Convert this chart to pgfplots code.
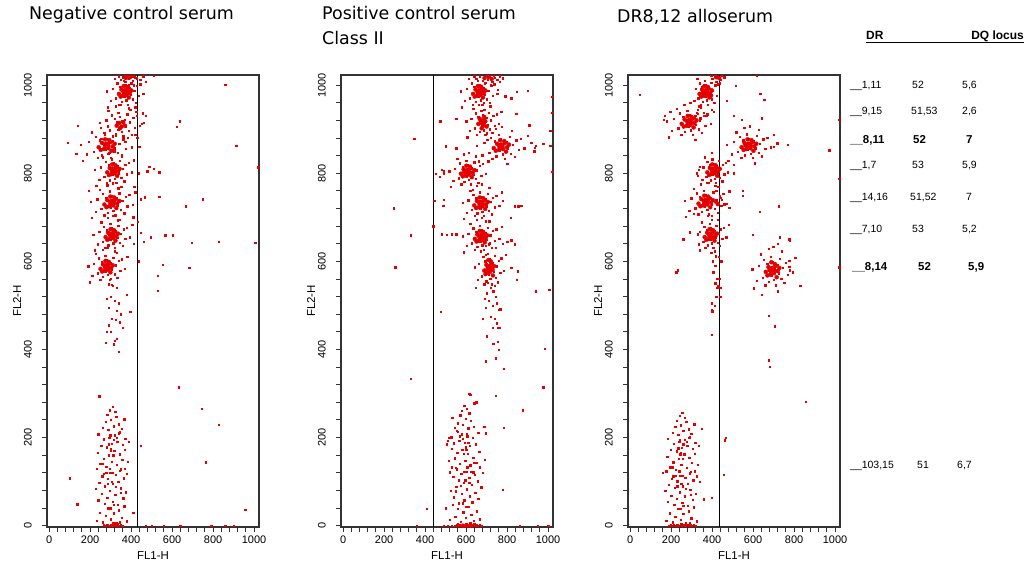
\documentclass[border=0pt]{standalone}
\usepackage{fontspec}
\setmainfont{Liberation Sans}
\newfontfamily\dv{DejaVu Sans}
\usepackage{pgfplots}
\pgfplotsset{compat=1.18}
\definecolor{dot}{RGB}{228,0,0}
\pgfplotsset{
  fc/.style={
    width=212bp, height=452bp, scale only axis,
    xmin=-10, xmax=1024, ymin=-3, ymax=1023,
    xtick={0,200,...,1000}, ytick={0,200,...,1000},
    minor tick num=4,
    xtick pos=bottom, ytick pos=left,
    tick align=outside,
    major tick length=5bp, minor tick length=5bp,
    axis line style={black!80, line width=1.1bp},
    tick style={black!80, line width=0.9bp},
    /pgf/number format/assume math mode=true,
    /pgf/number format/set thousands separator={},
    tick label style={font=\fontsize{11}{12}\selectfont},
    yticklabel style={rotate=90, anchor=south, inner sep=0pt},
    xticklabel style={anchor=north, inner sep=0pt},
    yticklabel shift=10bp, xticklabel shift=4bp,
    xlabel={FL1-H}, ylabel={FL2-H},
    label style={font=\fontsize{11.5}{13}\selectfont},
    xlabel style={at={(axis description cs:0.5,-0.064)}, anchor=center},
    ylabel style={at={(axis description cs:-0.1415,0.5)}, anchor=center},
  },
  dots/.style={only marks, mark=square*, mark size=0.68bp, color=dot, mark options={draw=none, fill=dot}},
  core/.style={only marks, mark=*, mark size=2bp, color=dot, mark options={draw=none, fill=dot}},
  blob/.style={only marks, mark=*, mark size=3.6bp, color=dot, mark options={draw=none, fill=dot}},
  gate/.style={black, line width=1bp, no marks},
}
\begin{document}
\begin{tikzpicture}
\path[use as bounding box] (0,0) rectangle (1028bp,565bp);

% ---------------- negative control
\begin{axis}[fc, at={(47bp,38bp)}, anchor=south west]
\addplot[dots] coordinates {
(350,1012) (362,1018) (372,1008) (380,1020) (390,1014) (398,1021) (408,1010) (418,1018) (370,1022) (400,1004) (428,1016) (340,1020) (460,1020) (388,1000) (412,1000)
(309,992) (326,970) (333,1004) (339,956) (347,996) (353,962) (359,988) (363,1010) (367,974) (371,1000) (377,966) (381,990) (385,956) (391,994) (397,978) (403,1006) (409,968) (415,988) (423,960) (429,998) (437,976) (445,1002) (301,964) (319,1014) (281,986) (459,980) (395,944) (471,1008) (287,950) (375,1020) (411,1020)
(278,920) (296,898) (304,932) (311,884) (320,924) (326,890) (333,916) (337,938) (342,902) (346,928) (353,894) (357,918) (361,884) (368,922) (375,906) (381,934) (388,896) (394,916) (403,888) (410,926) (419,904) (427,930) (269,892) (289,942) (247,914) (443,908) (324,952) (372,872) (456,936) (254,878) (350,956) (390,948)
(194,871) (218,849) (228,883) (236,835) (247,875) (256,841) (264,867) (270,889) (275,853) (281,879) (289,845) (295,869) (301,835) (309,873) (317,857) (326,885) (334,847) (343,867) (354,839) (362,877) (373,855) (385,881) (183,843) (208,893) (155,865) (404,859) (253,903) (315,823) (421,887) (163,829) (287,907) (337,899)
(252,814) (269,792) (276,826) (282,778) (290,818) (296,784) (302,810) (306,832) (310,796) (314,822) (320,788) (324,812) (328,778) (334,816) (340,800) (346,828) (352,790) (358,810) (366,782) (372,820) (380,798) (388,824) (244,786) (262,836) (224,808) (402,802) (294,846) (338,766) (414,830) (230,772) (318,850) (354,842)
(235,741) (254,719) (262,753) (269,705) (278,745) (285,711) (292,737) (297,759) (301,723) (306,749) (313,715) (318,739) (322,705) (329,743) (336,727) (343,755) (350,717) (357,737) (366,709) (373,747) (382,725) (391,751) (226,713) (246,763) (203,735) (407,729) (283,773) (334,693) (421,757) (209,699) (311,777) (352,769)
(244,667) (261,645) (268,679) (274,631) (282,671) (288,637) (294,663) (298,685) (302,649) (306,675) (312,641) (316,665) (320,631) (326,669) (332,653) (338,681) (344,643) (350,663) (358,635) (364,673) (372,651) (380,677) (236,639) (254,689) (216,661) (394,655) (286,699) (330,619) (406,683) (222,625) (310,703) (346,695)
(219,595) (236,573) (243,607) (249,559) (257,599) (263,565) (269,591) (273,613) (277,577) (281,603) (287,569) (291,593) (295,559) (301,597) (307,581) (313,609) (319,571) (325,591) (333,563) (339,601) (347,579) (355,605) (211,567) (229,617) (191,589) (369,583) (261,627) (305,547) (381,611) (197,553) (285,631) (321,623)
(290,548) (310,545) (330,540) (300,520) (280,515) (320,510) (340,505) (290,495) (330,488) (350,480) (395,485) (305,470) (325,468) (290,455) (345,462) (280,440) (300,440) (320,420) (330,425) (275,415) (315,412) (340,395) (360,450) (380,525) (300,560)
(232,12) (248,30) (262,8) (275,22) (288,40) (301,15) (314,28) (327,6) (340,35) (353,18) (366,44) (379,10)
(240,58) (256,72) (270,50) (283,64) (296,80) (309,55) (322,70) (335,48) (348,85) (361,62) (374,76) (226,84)
(244,98) (259,112) (272,90) (285,106) (298,120) (311,95) (324,115) (337,100) (350,128) (363,108) (380,118) (232,130)
(250,140) (266,152) (279,134) (292,160) (305,145) (318,170) (331,138) (344,162) (357,150) (370,172) (236,165) (385,145)
(254,182) (268,196) (281,178) (294,200) (307,186) (320,205) (333,190) (346,212) (359,184) (372,198) (240,208) (390,190)
(262,222) (276,236) (289,218) (302,240) (315,226) (328,248) (341,230) (354,220) (367,242) (296,262) (310,270) (284,252) (322,258)
(300,170) (302,175) (295,130) (310,120) (305,100) (290,185) (315,195) (330,200) (285,95) (320,170) (340,210) (298,205) (312,160) (278,120) (326,88) (345,125) (265,118) (350,75) (300,40) (315,48) (260,140) (370,130)
(268,1) (276,0) (284,2) (292,0) (300,1) (308,0) (316,2) (324,0) (332,1) (340,0) (348,2) (356,0) (320,4) (336,5) (344,8) (312,6)
(102,108) (138,49) (244,294) (447,181) (411,30) (631,314) (743,265) (828,229) (764,144) (956,36) (470,0) (500,0) (560,0) (640,0) (790,0) (860,0) (900,0)
(859,1001) (636,918) (623,905) (509,1022) (912,862) (1020,814) (488,815) (509,810) (538,802) (479,805) (750,741) (667,725) (538,747) (465,746) (447,741) (447,665) (496,655) (566,659) (604,659) (696,642) (826,645) (1005,643) (461,645) (553,593) (683,586) (530,567) (530,534) (141,908) (91,869) (132,845) (192,761) (440,860) (438,800) (436,600) (444,1012) (425,940) (420,950) (430,880) (416,770) (410,700) (432,690) (412,640) (452,912) (462,915) (470,930)
};
\addplot[core] coordinates {
(375,1016) (395,1018)
(341,980) (353,990) (361,976) (369,988) (377,978) (385,992) (393,982) (401,988) (349,974) (381,996) (365,998) (389,972)
(330,908) (342,914) (354,906) (362,916) (346,902) (370,908)
(242,859) (258,869) (268,855) (278,867) (289,857) (299,871) (310,861) (320,867) (252,853) (294,875) (273,877) (304,851)
(284,802) (296,812) (304,798) (312,810) (320,800) (328,814) (336,804) (344,810) (292,796) (324,818) (308,820) (332,794)
(270,729) (284,739) (294,725) (304,737) (313,727) (323,741) (332,731) (342,737) (280,723) (318,745) (299,747) (328,721)
(276,655) (288,665) (296,651) (304,663) (312,653) (320,667) (328,657) (336,663) (284,649) (316,671) (300,673) (324,647)
(251,583) (263,593) (271,579) (279,591) (287,581) (295,595) (303,585) (311,591) (259,577) (291,599) (275,601) (299,575)
};
\addplot[blob] coordinates {
(371,984) (281,863) (314,806) (306,733) (306,659) (281,587)
};
\addplot[gate] coordinates {(433,-3) (433,1023)};
\node[anchor=south, inner sep=1bp, font=\fontsize{12.5}{14}\selectfont] at (axis cs:433,1023) {8/6.047};
\end{axis}

% ---------------- positive control
\begin{axis}[fc, at={(341bp,38bp)}, anchor=south west]
\addplot[dots] coordinates {
(650,1014) (668,1020) (680,1010) (692,1018) (704,1012) (716,1021) (728,1008) (740,1017) (752,1012) (764,1020) (690,1004) (720,1000) (640,1020) (780,1016) (700,1022) (735,1022)
(602,992) (619,970) (626,1004) (632,956) (640,996) (646,962) (652,988) (656,1010) (660,974) (664,1000) (670,966) (674,990) (678,956) (684,994) (690,978) (696,1006) (702,968) (708,988) (716,960) (722,998) (730,976) (738,1002) (594,964) (612,1014) (574,986) (752,980) (668,1020) (688,944) (764,1008) (580,950) (668,1022) (704,1020) (755,990) (790,975) (820,970) (848,985) (900,988)
(625,924) (641,902) (647,936) (652,888) (659,928) (665,894) (670,920) (674,942) (677,906) (681,932) (686,898) (690,922) (694,888) (699,926) (704,910) (710,938) (715,900) (721,920) (728,892) (733,930) (740,908) (748,934) (618,896) (634,946) (600,918) (760,912) (663,956) (703,876) (771,940) (605,882) (685,960) (717,952)
(689,869) (712,847) (721,881) (728,833) (739,873) (747,839) (754,865) (760,887) (765,851) (770,877) (778,843) (783,867) (788,833) (796,871) (804,855) (812,883) (819,845) (827,865) (838,837) (845,875) (856,853) (866,879) (679,841) (702,891) (653,863) (884,857) (744,901) (801,821) (900,885) (661,827) (775,905) (822,897) (918,870) (940,862) (935,858)
(546,811) (563,789) (570,823) (576,775) (584,815) (590,781) (596,807) (600,829) (604,793) (608,819) (614,785) (618,809) (622,775) (628,813) (634,797) (640,825) (646,787) (652,807) (660,779) (666,817) (674,795) (682,821) (538,783) (556,833) (518,805) (696,799) (588,843) (632,763) (708,827) (524,769) (612,847) (648,839) (480,808) (492,800) (453,799) (470,792)
(611,739) (628,717) (635,751) (641,703) (649,743) (655,709) (661,735) (665,757) (669,721) (673,747) (679,713) (683,737) (687,703) (693,741) (699,725) (705,753) (711,715) (717,735) (725,707) (731,745) (739,723) (747,749) (603,711) (621,761) (583,733) (761,727) (653,771) (697,691) (773,757) (589,697) (677,775) (713,767) (780,738) (838,725) (852,727) (868,727) (489,727) (445,737) (492,740)
(611,663) (628,641) (635,675) (641,627) (649,667) (655,633) (661,659) (665,681) (669,645) (673,671) (679,637) (683,661) (687,627) (693,665) (699,649) (705,677) (711,639) (717,659) (725,631) (731,669) (739,647) (747,673) (603,635) (621,685) (583,657) (761,651) (653,695) (697,615) (773,679) (589,621) (677,699) (713,691) (778,640) (800,645) (820,648) (838,639) (480,662) (506,660) (530,662) (551,662)
(663,594) (677,566) (683,610) (687,548) (694,600) (699,555) (703,589) (707,618) (710,571) (713,605) (718,561) (721,592) (724,548) (729,597) (734,576) (739,613) (743,563) (748,589) (755,553) (759,602) (766,574) (772,607) (657,558) (671,623) (641,587) (783,579) (697,636) (732,532) (793,615) (646,540) (716,641) (745,631) (820,585) (848,559) (852,578)
(690,548) (705,552) (720,540) (700,528) (740,545) (745,520) (710,510) (730,500) (695,495) (760,490) (720,475) (680,470) (740,470) (750,460) (730,449) (765,450) (700,430) (735,413) (755,418) (760,400) (745,380) (697,373) (782,357) (750,505) (690,515)
(668,15) (652,33) (638,11) (625,25) (612,43) (599,18) (586,31) (573,9) (560,38) (547,21) (534,47) (521,13)
(660,61) (644,75) (630,53) (617,67) (604,83) (591,58) (578,73) (565,51) (552,88) (539,65) (526,79) (674,87)
(656,101) (641,115) (628,93) (615,109) (602,123) (589,98) (576,118) (563,103) (550,131) (537,111) (520,121) (668,133)
(650,143) (634,155) (621,137) (608,163) (595,148) (582,173) (569,141) (556,165) (543,153) (530,175) (664,168) (515,148)
(646,185) (632,199) (619,181) (606,203) (593,189) (580,208) (567,193) (554,215) (541,187) (528,201) (660,211) (510,193)
(638,225) (624,239) (611,221) (598,243) (585,229) (572,251) (559,233) (546,223) (533,245) (604,265) (590,273) (616,255) (578,261)
(600,173) (598,178) (605,133) (590,123) (595,103) (610,188) (585,198) (570,203) (615,98) (580,173) (560,213) (602,208) (588,163) (622,123) (574,91) (555,128) (635,121) (550,78) (600,43) (585,51) (640,143) (530,133)
(500,40) (505,185) (515,200) (690,150) (680,120) (650,280) (640,278) (615,300) (695,210) (688,225)
(545,0) (553,1) (561,0) (569,2) (577,0) (585,1) (593,0) (601,2) (609,0) (617,1) (625,0) (633,2) (641,0) (649,1) (657,0) (665,2) (560,4) (600,5) (620,6) (640,4)
(347,878) (246,721) (331,659) (254,587) (331,334) (409,38) (358,0) (490,0) (510,0) (530,0) (673,0) (860,0) (950,0) (1000,0) (477,485) (766,491) (757,449) (730,413) (697,373) (782,357) (977,314) (982,402) (876,262) (782,222) (779,81) (746,295) (621,298)
(1020,974) (1020,938) (1011,897) (901,988) (908,909) (844,935) (976,867) (1011,863) (933,850) (1020,803) (855,725) (819,699) (838,639) (941,532) (1006,536) (474,918) (551,924) (502,861) (551,857) (453,799) (492,806) (440,680)
};
\addplot[core] coordinates {
(690,1016) (710,1018) (725,1014)
(634,980) (646,990) (654,976) (662,988) (670,978) (678,992) (686,982) (694,988) (642,974) (674,996) (658,998) (682,972)
(660,912) (672,920) (684,908) (694,918) (676,902) (700,906) (666,924) (688,928)
(735,857) (751,867) (761,853) (771,865) (780,855) (790,869) (800,859) (809,865) (745,851) (786,873) (766,875) (795,849)
(575,799) (588,809) (597,795) (606,807) (615,797) (623,811) (632,801) (641,807) (584,793) (619,815) (601,817) (628,791) (610,803) (592,803)
(640,727) (653,737) (662,723) (671,735) (680,725) (688,739) (697,729) (706,735) (649,721) (684,743) (666,745) (693,719)
(643,651) (655,661) (663,647) (671,659) (679,649) (687,663) (695,653) (703,659) (651,645) (683,667) (667,669) (691,643)
(689,579) (699,592) (705,574) (711,589) (717,576) (723,594) (729,581) (737,589) (695,571) (721,600) (709,603) (731,568)
(585,0) (605,0) (625,0)
};
\addplot[blob] coordinates {
(664,984) (681,916) (770,861) (608,803) (673,731) (673,655) (713,584)
};
\addplot[gate] coordinates {(440,-3) (440,1023)};
\node[anchor=south, inner sep=1bp, font=\fontsize{12.5}{14}\selectfont] at (axis cs:440,1023) {8/6.039};
\end{axis}

% ---------------- DR8,12 alloserum
\begin{axis}[fc, at={(628bp,38bp)}, anchor=south west]
\addplot[dots] coordinates {
(400,1014) (412,1020) (420,1008) (430,1018) (440,1012) (448,1021) (415,1000) (438,1004) (395,1022) (460,1018)
(319,992) (333,970) (339,1004) (343,956) (350,996) (355,962) (359,988) (363,1010) (366,974) (369,1000) (374,966) (377,990) (380,956) (385,994) (390,978) (395,1006) (399,968) (404,988) (411,960) (415,998) (422,976) (428,1002) (313,964) (327,1014) (331,944) (398,944) (372,930) (360,938) (342,925) (345,950) (330,935) (318,930)
(214,924) (234,902) (242,936) (250,888) (259,928) (266,894) (274,920) (278,942) (283,906) (288,932) (295,898) (300,922) (305,888) (312,926) (319,910) (326,938) (334,900) (341,920) (350,892) (358,930) (367,908) (377,934) (204,896) (226,946) (180,918) (394,912) (264,956) (317,876) (408,940) (187,882) (293,960) (336,952) (170,930) (195,940) (165,922)
(506,871) (526,849) (534,883) (542,835) (551,875) (558,841) (566,867) (570,889) (575,853) (580,879) (587,845) (592,869) (597,835) (604,873) (611,857) (618,885) (626,847) (633,867) (642,839) (650,877) (659,855) (669,881) (496,843) (518,893) (472,865) (686,859) (556,903) (609,823) (700,887) (479,829) (585,907) (628,899) (768,865) (718,868) (700,860)
(357,814) (371,792) (377,826) (381,778) (388,818) (393,784) (397,810) (401,832) (404,796) (407,822) (412,788) (415,812) (418,778) (423,816) (428,800) (433,828) (437,790) (442,810) (449,782) (453,820) (460,798) (466,824) (351,786) (365,836) (335,808) (477,802) (324,800) (340,815) (330,795) (397,846) (420,760) (430,770)
(298,743) (317,721) (325,755) (332,707) (341,747) (348,713) (355,739) (360,761) (364,725) (369,751) (376,717) (381,741) (385,707) (392,745) (399,729) (406,757) (413,719) (420,739) (429,711) (436,749) (445,727) (454,753) (289,715) (309,765) (266,737) (470,731) (346,775) (397,695) (484,759) (272,701) (374,779) (415,771) (440,745) (448,740) (460,730) (483,722)
(341,667) (356,645) (362,679) (367,631) (374,671) (379,637) (384,663) (387,685) (391,649) (394,675) (399,641) (403,665) (406,631) (411,669) (416,653) (421,681) (426,643) (431,663) (438,635) (443,673) (450,651) (457,677) (335,639) (350,689) (330,662) (469,655) (379,703) (414,623) (480,683) (340,625) (397,703) (428,695) (309,708) (291,666) (260,650) (599,661) (730,655) (720,640) (776,650) (780,648) (231,580) (225,575)
(627,590) (646,563) (653,604) (660,546) (669,594) (675,554) (682,585) (686,611) (691,568) (695,599) (702,558) (706,587) (710,546) (717,592) (724,573) (730,606) (737,561) (743,585) (752,551) (759,597) (768,570) (776,602) (618,556) (638,616) (596,582) (792,575) (675,628) (721,532) (805,609) (603,539) (699,633) (739,623) (776,588) (780,580) (830,544) (641,525) (675,476) (707,453)
(395,620) (402,600) (415,590) (418,612) (405,575) (425,560) (430,545) (440,540) (420,520) (398,505) (412,500) (398,490) (440,520) (400,487) (398,434) (425,540) (433,610) (436,560) (445,600) (415,550)
(177,11) (193,28) (207,8) (220,21) (233,38) (246,14) (259,27) (272,6) (285,33) (298,17) (311,42) (324,10)
(185,55) (201,68) (215,48) (228,61) (241,76) (254,52) (267,67) (280,46) (293,81) (306,59) (319,72) (171,80)
(189,93) (204,106) (217,86) (230,101) (243,114) (256,90) (269,109) (282,95) (295,122) (308,103) (325,112) (177,124)
(195,133) (211,144) (224,127) (237,152) (250,138) (263,162) (276,131) (289,154) (302,143) (315,163) (181,157) (330,138)
(199,173) (213,186) (226,169) (239,190) (252,177) (265,195) (278,181) (291,201) (304,175) (317,188) (185,198) (335,181)
(207,211) (221,224) (234,207) (247,228) (260,215) (273,236) (286,219) (299,209) (312,230) (241,249) (255,256) (229,239) (267,245)
(245,162) (247,166) (240,124) (255,114) (250,95) (235,176) (260,185) (275,190) (230,90) (265,162) (285,200) (243,195) (257,152) (223,114) (271,84) (290,119) (210,112) (295,71) (245,38) (260,46) (205,133) (315,124)
(190,0) (198,1) (206,0) (214,2) (222,0) (230,1) (238,0) (246,2) (254,0) (262,1) (270,0) (278,2) (286,0) (294,1) (302,0) (310,2) (318,0) (250,5) (270,4) (290,6)
(47,978) (618,1022) (516,999) (634,980) (654,967) (472,964) (504,931) (543,921) (641,925) (1020,921) (971,852) (504,819) (504,800) (548,761) (548,749) (724,725) (633,712) (1020,788) (1020,587) (675,376) (682,361) (857,281) (463,194) (465,199) (456,115) (397,64) (160,120) (350,220) (340,100) (360,60)
};
\addplot[core] coordinates {
(420,1018) (435,1016)
(339,980) (351,990) (359,976) (367,988) (375,978) (383,992) (391,982) (399,988) (347,974) (379,996) (363,998) (387,972) (355,984) (395,976)
(252,912) (266,922) (276,908) (286,920) (295,910) (305,924) (314,914) (324,920) (262,906) (300,928) (281,930) (310,904)
(544,859) (558,869) (568,855) (578,867) (587,857) (597,871) (606,861) (616,867) (554,853) (592,875) (573,877) (602,851) (585,863) (563,863)
(377,802) (389,812) (397,798) (405,810) (413,800) (421,814) (429,804) (437,810) (385,796) (417,818) (401,820) (425,794)
(334,731) (348,741) (357,727) (367,739) (376,729) (386,743) (395,733) (404,739) (343,725) (381,747) (362,749) (391,723) (420,735) (428,730)
(364,655) (376,665) (384,651) (392,663) (400,653) (408,667) (416,657) (424,663) (372,649) (404,671) (388,673) (412,647)
(662,576) (675,587) (684,570) (693,585) (702,573) (711,590) (720,578) (728,585) (670,568) (706,594) (689,598) (715,564) (697,580) (680,580)
};
\addplot[blob] coordinates {
(369,984) (288,916) (580,863) (407,806) (369,735) (394,659) (695,580)
};
\addplot[gate] coordinates {(434,-3) (434,1023)};
\node[anchor=south, inner sep=1bp, font=\fontsize{12.5}{14}\selectfont] at (axis cs:434,1023) {8/6.035};
\end{axis}

% ---------------- titles
\begin{scope}[every node/.style={anchor=base west, inner sep=0pt, font=\dv\fontsize{17.5}{20}\selectfont}]
\node at (29bp,545bp) {Negative control serum};
\node at (322bp,545bp) {Positive control serum};
\node at (322bp,520bp) {Class II};
\node at (617bp,542bp) {DR8,12 alloserum};
\end{scope}

% ---------------- DR / DQ annotation
\node[anchor=base west, inner sep=0pt, font=\bfseries\fontsize{12}{14}\selectfont] at (866bp,525bp) {DR};
\node[anchor=base east, inner sep=0pt, font=\bfseries\fontsize{12}{14}\selectfont] at (1024bp,525bp) {DQ locus};
\draw[line width=1bp] (866bp,522bp) -- (1024bp,522bp);
\begin{scope}[every node/.style={anchor=base west, inner sep=0pt, font=\fontsize{10.5}{12}\selectfont}]
\node at (850bp,476bp) {\_\_1,11};  \node at (912bp,476bp) {52};    \node at (962bp,476bp) {5,6};
\node at (850bp,450bp) {\_\_9,15};  \node at (911bp,450bp) {51,53}; \node at (962bp,450bp) {2,6};
\node at (850bp,396bp) {\_\_1,7};   \node at (912bp,396bp) {53};    \node at (962bp,396bp) {5,9};
\node at (850bp,364bp) {\_\_14,16}; \node at (910bp,364bp) {51,52}; \node at (966bp,364bp) {7};
\node at (850bp,332bp) {\_\_7,10};  \node at (912bp,332bp) {53};    \node at (962bp,332bp) {5,2};
\node at (850bp,96bp) {\_\_103,15}; \node at (917bp,96bp) {51};     \node at (957bp,96bp) {6,7};
\end{scope}
\begin{scope}[every node/.style={anchor=base west, inner sep=0pt, font=\bfseries\fontsize{11.5}{13}\selectfont}]
\node at (850bp,421bp) {\_\_8,11}; \node at (913bp,421bp) {52}; \node at (966bp,421bp) {7};
\node at (852bp,294bp) {\_\_8,14}; \node at (918bp,294bp) {52}; \node at (968bp,294bp) {5,9};
\end{scope}
\end{tikzpicture}
\end{document}
